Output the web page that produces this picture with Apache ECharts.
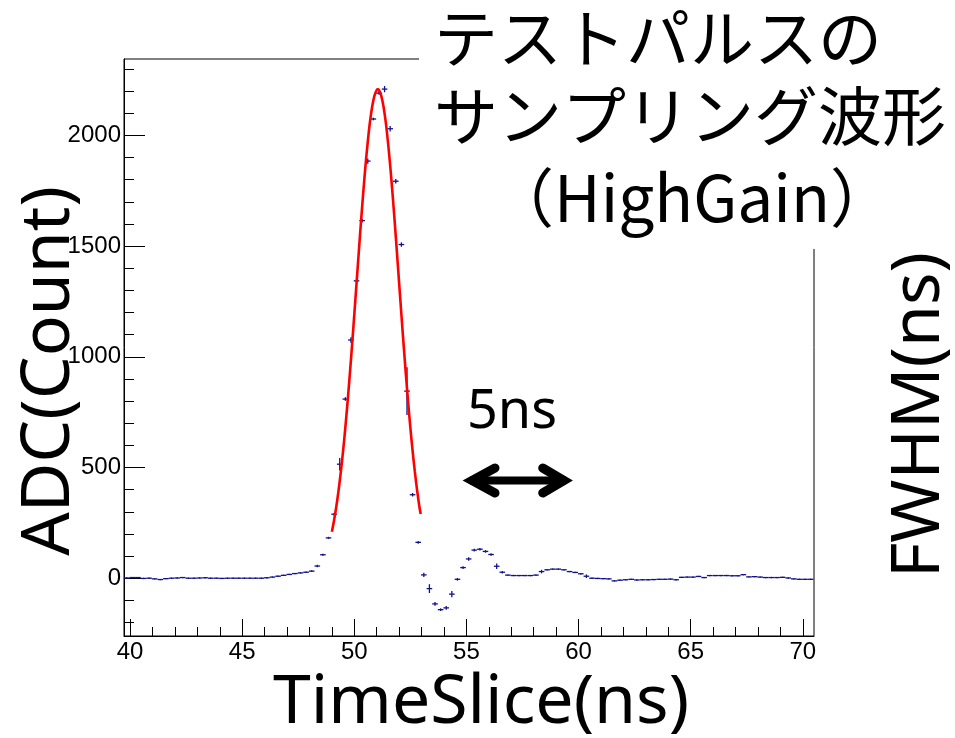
<!DOCTYPE html>
<html>
<head>
<meta charset="utf-8">
<script src="https://cdn.jsdelivr.net/npm/echarts@6/dist/echarts.min.js"></script>
<style>
html,body{margin:0;padding:0;background:#fff;}
#chart{width:955px;height:738px;}
</style>
</head>
<body>
<div id="chart"></div>
<script>
// ---------- data ----------
const timeSlices = [
  39.85, 40.10, 40.35, 40.60, 40.85, 41.10, 41.35, 41.60, 41.85, 42.10,
  42.35, 42.60, 42.85, 43.10, 43.35, 43.60, 43.85, 44.10, 44.35, 44.60,
  44.85, 45.10, 45.35, 45.60, 45.85, 46.10, 46.35, 46.60, 46.85, 47.10,
  47.35, 47.60, 47.85, 48.10, 48.35, 48.60, 48.85, 49.10, 49.35, 49.60,
  49.85, 50.10, 50.35, 50.60, 50.85, 51.10, 51.35, 51.60, 51.85, 52.10,
  52.35, 52.60, 52.85, 53.10, 53.35, 53.60, 53.85, 54.10, 54.35, 54.60,
  54.85, 55.10, 55.35, 55.60, 55.85, 56.10, 56.35, 56.60, 56.85, 57.10,
  57.35, 57.60, 57.85, 58.10, 58.35, 58.60, 58.85, 59.10, 59.35, 59.60,
  59.85, 60.10, 60.35, 60.60, 60.85, 61.10, 61.35, 61.60, 61.85, 62.10,
  62.35, 62.60, 62.85, 63.10, 63.35, 63.60, 63.85, 64.10, 64.35, 64.60,
  64.85, 65.10, 65.35, 65.60, 65.85, 66.10, 66.35, 66.60, 66.85, 67.10,
  67.35, 67.60, 67.85, 68.10, 68.35, 68.60, 68.85, 69.10, 69.35, 69.60,
  69.85, 70.10, 70.35
];
const adcValues = [
  1, 3, 3, -1, 0, -3, -6, -2, 0, 1,
  3, 0, 0, 1, 2, 0, 0, -1, 0, 0,
  0, 0, 0, 0, 0, 2, 5, 9, 13, 17,
  21, 24, 27, 32, 55, 106, 182, 289, 515, 809,
  1076, 1343, 1615, 1884, 2074, 2191, 2209, 2030, 1793, 1507,
  845, 377, 162, 15, -47, -116, -142, -134, -72, -5,
  48, 87, 127, 131, 121, 107, 54, 27, 14, 12,
  12, 12, 12, 14, 30, 38, 41, 41, 38, 30,
  26, 20, 9, 0, -1, -2, -3, -12, -9, -7,
  -5, -8, -7, -7, -6, -5, -5, -4, -7, 4,
  5, 5, 8, 3, 12, 12, 12, 12, 11, 11,
  16, 6, 7, 5, 3, 3, 3, 4, 1, -3,
  -5, -5, -5
];
const adcErrors = [
  3, 3, 3, 3, 3, 3, 3, 3, 3, 3,
  3, 3, 3, 3, 3, 3, 3, 3, 3, 3,
  3, 3, 3, 3, 3, 3, 3, 3, 3, 3,
  3, 3, 3, 4, 6, 4, 5, 6, 28, 8,
  12, 8, 8, 12, 6, 8, 14, 12, 10, 10,
  108, 8, 6, 10, 20, 8, 6, 8, 14, 6,
  6, 8, 6, 6, 6, 6, 12, 6, 3, 3,
  3, 3, 3, 3, 8, 3, 3, 3, 3, 3,
  3, 3, 8, 3, 3, 3, 3, 3, 3, 3,
  3, 3, 3, 3, 3, 3, 3, 3, 3, 3,
  3, 3, 3, 3, 3, 3, 3, 3, 3, 3,
  3, 3, 3, 3, 3, 3, 3, 3, 3, 3,
  3, 3, 3
];
const timeHalfWidth = 0.125;

// fitted curve (red)
const fitTimes = [
  49.0, 49.1, 49.2, 49.3, 49.4, 49.5, 49.6, 49.7, 49.8, 49.9,
  50.0, 50.1, 50.2, 50.3, 50.4, 50.5, 50.6, 50.7, 50.8, 50.9,
  51.0, 51.05, 51.1, 51.2, 51.3, 51.4, 51.5, 51.6, 51.7, 51.8,
  51.9, 52.0, 52.1, 52.2, 52.3, 52.4, 52.5, 52.6, 52.7, 52.8,
  52.9, 52.96
];
const fitValues = [
  210, 263, 325, 398, 481, 575, 680, 796, 921, 1053,
  1191, 1332, 1473, 1612, 1743, 1864, 1971, 2062, 2132, 2180,
  2205, 2208, 2205, 2180, 2132, 2062, 1971, 1864, 1743, 1612,
  1473, 1332, 1191, 1053, 921, 796, 680, 575, 481, 398,
  325, 290
];

const xMajorTicks = [40, 45, 50, 55, 60, 65, 70];
const xMinorTicks = [41, 42, 43, 44, 46, 47, 48, 49, 51, 52, 53, 54, 56, 57, 58, 59, 61, 62, 63, 64, 66, 67, 68, 69];
const yMajorTicks = [0, 500, 1000, 1500, 2000];
const yMinorTicks = [-200, -100, 100, 200, 300, 400, 600, 700, 800, 900, 1100, 1200, 1300, 1400, 1600, 1700, 1800, 1900, 2100, 2200, 2300];

const titleLines = ['テストパルスの', 'サンプリング波形', '（HighGain）'];
const xTitle = 'TimeSlice(ns)';
const yTitle = 'ADC(Count)';
const rightTitle = 'FWHM(ns)';
const arrowLabel = '5ns';

// ---------- chart ----------
const X_MIN = 39.73, X_MAX = 70.5, Y_MIN = -261, Y_MAX = 2345;
const markColor = '#12128f';
const latin = '"Noto Sans", "DejaVu Sans", sans-serif';
const tickFont = '"Liberation Sans", Arial, sans-serif';

const chart = echarts.init(document.getElementById('chart'), null, {renderer: 'canvas'});

const pointData = timeSlices.map((t, i) => [t, adcValues[i], adcErrors[i]]);
const fitData = fitTimes.map((t, i) => [t, fitValues[i]]);

function plain(v) { return String(v); }

function axisBase(extra) {
  return Object.assign({
    type: 'value',
    splitLine: {show: false},
    axisLine: {show: false, onZero: false},
  }, extra);
}

const option = {
  animation: false,
  backgroundColor: '#ffffff',
  grid: {
    left: 124, top: 59, width: 690, height: 577,
    show: true, borderColor: '#000', borderWidth: 1, backgroundColor: 'transparent',
    containLabel: false, outerBoundsMode: 'none'
  },
  xAxis: [
    axisBase({
      min: X_MIN, max: X_MAX, position: 'bottom',
      axisLine: {show: true, onZero: false, lineStyle: {color: '#000', width: 1}},
      axisTick: {show: true, inside: true, length: 17, customValues: xMajorTicks, lineStyle: {color: '#000', width: 1}},
      axisLabel: {show: true, customValues: xMajorTicks, formatter: plain, fontSize: 24, fontFamily: tickFont, color: '#000', margin: 4}
    }),
    axisBase({
      min: X_MIN, max: X_MAX, position: 'bottom',
      axisLine: {show: false, onZero: false},
      axisTick: {show: true, inside: true, length: 9, customValues: xMinorTicks, lineStyle: {color: '#000', width: 1}},
      axisLabel: {show: false}
    })
  ],
  yAxis: [
    axisBase({
      min: Y_MIN, max: Y_MAX, position: 'left',
      axisLine: {show: true, onZero: false, lineStyle: {color: '#000', width: 1}},
      axisTick: {show: true, inside: true, length: 21, customValues: yMajorTicks, lineStyle: {color: '#000', width: 1}},
      axisLabel: {show: true, customValues: yMajorTicks, formatter: plain, fontSize: 24, fontFamily: tickFont, color: '#000', margin: 3}
    }),
    axisBase({
      min: Y_MIN, max: Y_MAX, position: 'left',
      axisLine: {show: false, onZero: false},
      axisTick: {show: true, inside: true, length: 10, customValues: yMinorTicks, lineStyle: {color: '#000', width: 1}},
      axisLabel: {show: false}
    })
  ],
  series: [
    {
      type: 'custom',
      xAxisIndex: 0, yAxisIndex: 0,
      data: pointData,
      encode: {x: 0, y: 1},
      z: 3,
      renderItem: function (params, api) {
        const x = api.value(0), y = api.value(1), e = api.value(2);
        const l = api.coord([x - timeHalfWidth, y]);
        const r = api.coord([x + timeHalfWidth, y]);
        const t = api.coord([x, y + e]);
        const b = api.coord([x, y - e]);
        const style = {stroke: markColor, lineWidth: 1.3};
        return {
          type: 'group',
          children: [
            {type: 'line', shape: {x1: l[0], y1: l[1], x2: r[0], y2: r[1]}, style: style},
            {type: 'line', shape: {x1: t[0], y1: t[1], x2: b[0], y2: b[1]}, style: style}
          ]
        };
      }
    },
    {
      type: 'line',
      xAxisIndex: 0, yAxisIndex: 0,
      data: fitData,
      showSymbol: false,
      symbol: 'none',
      smooth: 0.3,
      z: 4,
      lineStyle: {color: '#ff0000', width: 2.6}
    }
  ],
  graphic: [
    {type: 'rect', z: 100, shape: {x: 419, y: 0, width: 536, height: 249}, style: {fill: '#ffffff'}},
    {type: 'text', z: 101, x: 434, y: 38, style: {text: titleLines[0], fontSize: 64, fontFamily: '"Noto Sans CJK JP", sans-serif', fill: '#000', align: 'left', verticalAlign: 'middle'}},
    {type: 'text', z: 101, x: 434, y: 116, style: {text: titleLines[1], fontSize: 64, fontFamily: '"Noto Sans CJK JP", sans-serif', fill: '#000', align: 'left', verticalAlign: 'middle'}},
    {type: 'text', z: 101, x: 692, y: 198, style: {text: titleLines[2], fontSize: 64, fontFamily: '"Noto Sans CJK JP", sans-serif', fill: '#000', align: 'center', verticalAlign: 'middle'}},
    {type: 'text', z: 101, x: 512, y: 413, style: {text: arrowLabel, fontSize: 54, fontFamily: latin, fill: '#000', align: 'center', verticalAlign: 'middle'}},
    {type: 'polyline', z: 101, shape: {points: [[495, 468], [472, 480.5], [495, 493]]}, style: {stroke: '#000', lineWidth: 9, lineCap: 'round', lineJoin: 'miter', fill: null}},
    {type: 'polyline', z: 101, shape: {points: [[542.7, 468], [564, 480.5], [542.7, 493]]}, style: {stroke: '#000', lineWidth: 9, lineCap: 'round', lineJoin: 'miter', fill: null}},
    {type: 'line', z: 101, shape: {x1: 470, y1: 480.5, x2: 566, y2: 480.5}, style: {stroke: '#000', lineWidth: 8}},
    {type: 'text', z: 101, x: 481, y: 704, style: {text: xTitle, fontSize: 68, fontFamily: latin, fill: '#000', align: 'center', verticalAlign: 'middle'}},
    {type: 'text', z: 101, x: 50, y: 371, rotation: Math.PI / 2, style: {text: yTitle, fontSize: 68, fontFamily: latin, fill: '#000', align: 'center', verticalAlign: 'middle'}},
    {type: 'text', z: 101, x: 920, y: 415, rotation: Math.PI / 2, style: {text: rightTitle, fontSize: 68, fontFamily: latin, fill: '#000', align: 'center', verticalAlign: 'middle'}}
  ]
};

chart.setOption(option);
</script>
</body>
</html>
